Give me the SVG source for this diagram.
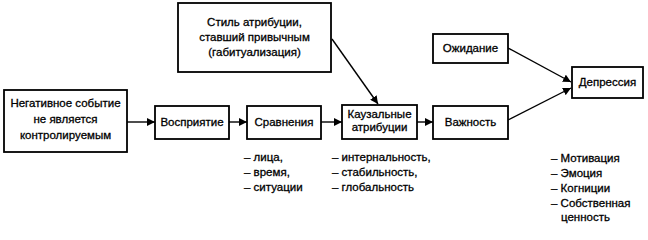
<svg xmlns="http://www.w3.org/2000/svg" width="648" height="240" viewBox="0 0 648 240">
<style>
.box{fill:#fff;stroke:#000;stroke-width:1.8}
text{font-family:"Liberation Sans",Arial,sans-serif;font-size:11.5px;fill:#000;stroke:#000;stroke-width:0.3}
.c{text-anchor:middle}
.ln{stroke:#000;stroke-width:1.4;fill:none}
</style>
<defs>
<marker id="ah" viewBox="0 0 10 10" refX="10" refY="5" markerWidth="8" markerHeight="8" markerUnits="userSpaceOnUse" orient="auto">
<path d="M0,0 L10,5 L0,10 Z" fill="#000"/>
</marker>
</defs>
<g id="connectors">
<line class="ln" x1="127" y1="122" x2="155" y2="122" marker-end="url(#ah)"/>
<line class="ln" x1="229" y1="122" x2="247" y2="122" marker-end="url(#ah)"/>
<line class="ln" x1="321" y1="122" x2="342" y2="122" marker-end="url(#ah)"/>
<line class="ln" x1="417" y1="122" x2="433" y2="122" marker-end="url(#ah)"/>
<line class="ln" x1="332" y1="39" x2="378" y2="104" marker-end="url(#ah)"/>
<line class="ln" x1="508" y1="48" x2="571" y2="82" marker-end="url(#ah)"/>
<line class="ln" x1="508" y1="120" x2="571" y2="88" marker-end="url(#ah)"/>
</g>
<g id="n_event">
<rect class="box" x="4" y="90" width="123" height="62"/>
<text class="c" x="65.5" y="107">Негативное событие</text>
<text class="c" x="65.5" y="123">не является</text>
<text class="c" x="65.5" y="139">контролируемым</text>
</g>
<g id="n_perception">
<rect class="box" x="155" y="106" width="74" height="33"/>
<text class="c" x="192" y="126">Восприятие</text>
</g>
<g id="n_comparison">
<rect class="box" x="247" y="106" width="74" height="33"/>
<text class="c" x="284" y="126">Сравнения</text>
</g>
<g id="n_causal">
<rect class="box" x="342" y="105" width="75" height="34"/>
<text class="c" x="379.5" y="118">Каузальные</text>
<text class="c" x="379.5" y="131">атрибуции</text>
</g>
<g id="n_style">
<rect class="box" x="178" y="3" width="153" height="69"/>
<text class="c" x="254.5" y="26">Стиль атрибуции,</text>
<text class="c" x="254.5" y="41">ставший привычным</text>
<text class="c" x="254.5" y="56">(габитуализация)</text>
</g>
<g id="n_importance">
<rect class="box" x="433" y="106" width="75" height="33"/>
<text class="c" x="470.5" y="126">Важность</text>
</g>
<g id="n_expectation">
<rect class="box" x="433" y="34" width="75" height="29"/>
<text class="c" x="470.5" y="52">Ожидание</text>
</g>
<g id="n_depression">
<rect class="box" x="572" y="67" width="71" height="31"/>
<text class="c" x="607.5" y="86">Депрессия</text>
</g>
<g id="lists">
<text x="244" y="161">– лица,</text>
<text x="244" y="176">– время,</text>
<text x="244" y="191">– ситуации</text>
<text x="332" y="161">– интернальность,</text>
<text x="332" y="176">– стабильность,</text>
<text x="332" y="191">– глобальность</text>
<text x="551" y="162">– Мотивация</text>
<text x="551" y="177">– Эмоция</text>
<text x="551" y="192">– Когниции</text>
<text x="551" y="207">– Собственная</text>
<text x="561" y="221">ценность</text>
</g>
</svg>
